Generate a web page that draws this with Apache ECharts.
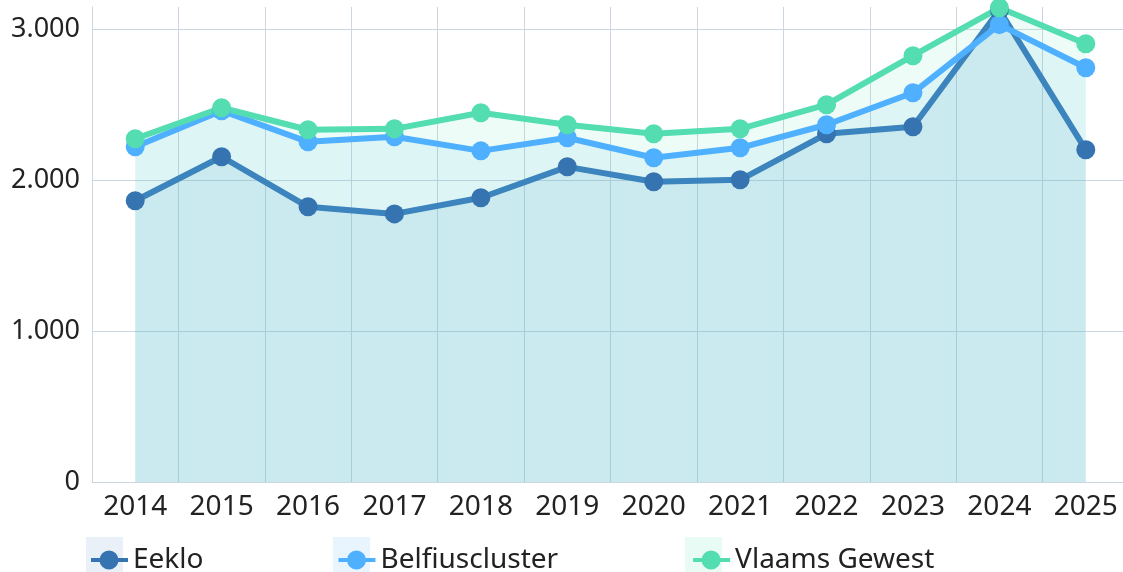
<!DOCTYPE html>
<html>
<head>
<meta charset="utf-8">
<script src="https://cdn.jsdelivr.net/npm/echarts@6/dist/echarts.min.js"></script>
<style>
  html, body { margin: 0; padding: 0; background: #fff; }
  #chart { width: 1123px; height: 572px; }
</style>
</head>
<body>
<div id="chart"></div>
<script>
const years = ['2014', '2015', '2016', '2017', '2018', '2019', '2020', '2021', '2022', '2023', '2024', '2025'];
const eeklo = [1865, 2157, 1825, 1778, 1885, 2090, 1991, 2004, 2309, 2356, 3130, 2203];
const belfius = [2223, 2462, 2256, 2289, 2196, 2283, 2150, 2216, 2369, 2581, 3033, 2747];
const vlaams = [2276, 2482, 2336, 2342, 2449, 2369, 2309, 2342, 2502, 2827, 3145, 2906];

const font = 'Noto Sans';
// line + dot legend marker
const legendIcon = 'path://M0,7.5H37V11.5H0Z M27.5,9.5A9.5,9.5 0 1,1 8.5,9.5A9.5,9.5 0 1,1 27.5,9.5Z';

function fmt(v) {
    return String(v).replace(/\B(?=(\d{3})+(?!\d))/g, '.');
}

function lineSeries(name, data, lineColor, dotColor, areaColor) {
    return {
        name: name,
        type: 'line',
        data: data,
        symbol: 'circle',
        symbolSize: 19,
        lineStyle: { width: 6, color: lineColor },
        itemStyle: { color: dotColor },
        areaStyle: { color: areaColor, opacity: 1 },
        emphasis: { disabled: true },
    };
}

let chart = echarts.init(document.getElementById('chart'));

const option = {
    animation: false,
    grid: { left: 92, width: 1037, top: 7, bottom: 90, containLabel: false, outerBoundsMode: 'none' },
    xAxis: {
        type: 'category',
        data: years,
        boundaryGap: true,
        axisLine: { lineStyle: { color: '#ccd6e0', width: 1 } },
        axisTick: { show: false },
        axisLabel: { color: '#222', fontFamily: font, fontSize: 28, margin: 11 },
        splitLine: { show: true, lineStyle: { color: '#ccd6e0', width: 1 } },
    },
    yAxis: {
        type: 'value',
        min: 0,
        max: 3150,
        interval: 1000,
        axisLine: { show: true, lineStyle: { color: '#ccd6e0', width: 1 } },
        axisTick: { show: false },
        axisLabel: {
            color: '#222', fontFamily: font, fontSize: 27, margin: 12,
            showMaxLabel: false,
            formatter: fmt,
        },
        splitLine: { show: true, showMaxLine: false, lineStyle: { color: '#ccd6e0', width: 1 } },
    },
    legend: {
        left: 86,
        top: 541,
        icon: legendIcon,
        itemWidth: 37,
        itemHeight: 19,
        itemGap: 135,
        textStyle: { color: '#222', fontFamily: font, fontSize: 28 },
        data: ['Eeklo', 'Belfiuscluster', 'Vlaams Gewest'],
    },
    graphic: [
        { type: 'rect', left: 86, top: 537, shape: { width: 37, height: 35 }, style: { fill: '#e9f0f8' }, z: -1 },
        { type: 'rect', left: 333, top: 537, shape: { width: 37, height: 35 }, style: { fill: '#e8f5ff' }, z: -1 },
        { type: 'rect', left: 685, top: 537, shape: { width: 37, height: 35 }, style: { fill: '#e9fbf5' }, z: -1 },
    ],
    series: [
        lineSeries('Eeklo', eeklo, '#3b84bd', '#3674b1', 'rgba(41,134,196,0.1)'),
        lineSeries('Belfiuscluster', belfius, '#4fb0ff', '#4fb0ff', 'rgba(77,180,237,0.1)'),
        lineSeries('Vlaams Gewest', vlaams, '#53ddb0', '#53ddb0', 'rgba(84,221,176,0.1)'),
    ],
};

chart.setOption(option);
</script>
</body>
</html>
